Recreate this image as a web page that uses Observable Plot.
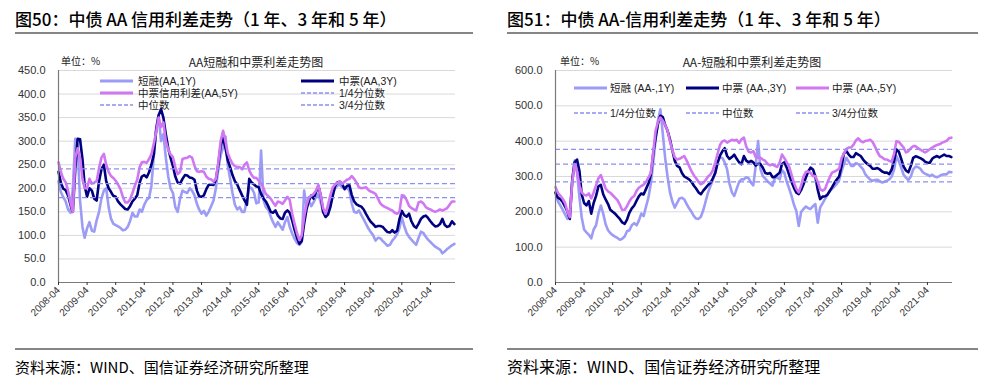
<!DOCTYPE html>
<html><head><meta charset="utf-8">
<script src="https://cdn.jsdelivr.net/npm/d3@7"></script>
<script src="https://cdn.jsdelivr.net/npm/@observablehq/plot@0.6"></script>
<style>
body{margin:0;background:#fff;}
#root{position:relative;width:992px;height:385px;overflow:hidden;background:#fff;font-family:"Noto Sans CJK SC","Liberation Sans",sans-serif;}
.abs{position:absolute;white-space:nowrap;line-height:1;}
.title{font-size:17px;color:#000;font-weight:500;}
.rule{position:absolute;height:2px;background:#858585;}
.src{color:#000;}
.ctitle{font-size:12px;color:#222;}
.unit{font-size:10px;color:#222;}
.leg{font-family:"Liberation Sans","Noto Sans CJK SC",sans-serif;font-size:10.5px;color:#222;display:flex;align-items:center;height:10px;}
.leg span{line-height:10px;}
</style></head>
<body><div id="root"></div>
<script>
// ---------- data ----------
const START_MONTH = "2008-04";
const X_END = "2022-02-15";
const xTickLabels = ["2008-04","2009-04","2010-04","2011-04","2012-04","2013-04","2014-04","2015-04","2016-04","2017-04","2018-04","2019-04","2020-04","2021-04"];
const yTicksLeft = [0,50,100,150,200,250,300,350,400,450];
const yTicksRight = [0,100,200,300,400,500,600];

// Left panel: AA (monthly, from 2008-04)
const aa1Y = [
215,192,181,172,155,148,200,305,290,174,118,95,
115,128,110,108,132,150,178,195,200,160,135,125,
122,119,116,111,112,118,130,148,140,140,155,150,
165,175,180,205,270,330,355,300,315,265,225,200,
190,160,150,178,195,192,190,200,195,185,167,155,
146,152,142,150,162,174,200,240,270,287,310,250,
220,190,165,155,160,150,150,175,202,200,190,168,
170,280,175,160,155,140,128,118,128,120,112,128,
139,118,104,93,84,80,86,195,162,174,162,170,
182,188,170,150,146,160,175,190,200,206,207,202,
202,201,195,168,150,148,153,143,134,124,114,107,
100,89,95,94,88,83,78,80,89,95,103,115,
138,120,105,97,91,85,80,95,108,105,97,91,
86,81,76,73,70,62,66,71,75,79,82];
const aa3Y = [
235,212,199,196,185,165,150,240,305,304,262,205,
182,200,195,178,174,215,240,250,215,200,192,184,
182,172,166,161,156,155,162,172,178,185,212,225,
228,223,234,250,272,325,355,368,350,315,285,265,
247,225,212,210,220,228,227,223,222,218,195,183,
182,185,198,207,208,207,218,250,290,308,285,260,
245,228,215,208,196,185,175,165,220,212,208,204,
202,188,178,172,162,150,148,153,142,136,135,148,
153,148,132,112,95,82,88,125,155,174,185,178,
192,205,185,150,139,144,160,184,205,213,214,209,
198,205,207,186,172,166,163,161,155,145,136,129,
124,118,120,120,118,112,107,106,111,106,110,134,
152,143,140,146,130,120,116,125,135,140,142,137,
130,124,119,120,124,135,122,118,120,130,124];
const aa5Y = [
255,235,220,213,195,170,150,265,285,265,220,200,
200,220,210,212,215,243,265,273,250,235,226,222,
216,208,198,182,170,170,176,190,205,218,245,255,
256,254,262,272,295,320,350,330,340,300,282,272,
266,245,230,235,262,264,265,268,265,248,236,235,
236,235,225,220,219,214,220,255,300,322,300,275,
262,252,247,245,245,240,250,255,238,228,222,222,
216,211,200,188,183,178,170,163,172,170,167,174,
182,175,146,125,105,90,100,140,165,181,184,188,
195,207,185,158,146,165,185,202,208,212,214,209,
214,218,220,226,220,212,202,200,201,202,196,193,
191,188,178,168,163,160,158,155,153,148,146,150,
185,184,175,163,158,155,153,170,172,168,160,157,
155,152,150,152,155,153,155,158,165,172,172];
const aaQuartiles = [180, 210, 241];

// Right panel: AA- (monthly, from 2008-04)
const aam1Y = [
252,230,218,206,193,180,200,290,345,311,240,185,
150,142,135,125,150,162,195,218,195,165,148,140,
134,130,126,121,124,130,145,148,162,168,162,175,
195,188,215,240,280,340,405,460,490,420,350,300,
255,230,212,225,238,240,235,222,210,200,188,181,
180,186,205,230,255,273,290,315,340,355,352,340,
320,280,255,245,265,285,292,292,298,295,282,275,
330,400,320,301,294,286,280,274,295,298,292,318,
310,285,266,245,220,202,160,200,208,215,210,208,
216,222,169,212,224,236,248,259,265,272,280,290,
315,335,353,342,330,330,338,335,328,320,305,298,
291,288,290,291,287,283,285,288,292,300,320,358,
343,325,305,297,290,300,320,328,327,322,312,308,
305,301,305,300,298,301,305,306,306,313,312];
const aam3Y = [
255,240,236,228,215,200,180,290,340,348,315,250,
225,218,230,195,225,245,272,276,250,235,222,206,
200,195,187,180,170,166,178,198,210,218,232,244,
252,249,265,280,305,365,410,450,472,468,445,430,
405,375,345,330,326,310,300,296,292,285,274,266,
255,250,260,268,276,282,295,310,340,360,372,380,
358,350,355,362,350,340,335,358,345,340,344,340,
331,336,335,325,310,308,310,298,299,305,311,335,
340,325,305,285,268,254,250,262,278,298,315,325,
320,300,262,236,243,244,248,259,270,282,292,300,
330,365,372,362,355,355,366,362,358,348,340,335,
330,322,322,324,320,314,311,311,307,320,345,377,
370,350,328,317,312,330,353,357,355,352,348,342,
339,339,350,355,358,354,358,362,358,358,355];
const aam5Y = [
270,254,246,237,225,200,185,285,335,315,275,255,
248,246,252,238,255,275,295,304,285,266,258,254,
247,240,233,220,205,206,216,230,240,245,260,268,
273,277,285,297,310,370,430,455,467,458,445,430,
400,375,355,348,350,354,358,345,330,315,303,295,
285,278,282,290,300,306,318,340,365,390,400,402,
396,400,404,402,404,395,405,410,385,370,368,372,
355,353,353,348,344,335,332,334,330,327,340,362,
352,340,328,305,282,265,255,275,300,313,314,310,
301,301,285,264,260,264,282,298,311,314,318,322,
352,365,378,382,382,390,402,408,400,397,401,402,
404,398,385,370,358,354,349,348,344,342,365,400,
398,390,382,368,372,380,386,386,380,376,372,368,
372,377,382,386,389,391,395,398,401,408,410];
const aamQuartiles = [285, 335, 377];

// ---------- styling ----------
const C_LIGHT = "#9c9cf7", C_NAVY = "#000080", C_PINK = "#d277f2", C_DASH = "#8f8ff0";
const parseM = d3.utcParse("%Y-%m");
const parseD = d3.utcParse("%Y-%m-%d");
const start = parseM(START_MONTH);
const xDomain = [start, parseD(X_END)];
const xTicks = xTickLabels.map(parseM);

const root = document.getElementById("root");
function addDiv(cls, x, y, html, extra) {
  const d = document.createElement("div");
  d.className = "abs " + cls;
  d.style.left = x + "px"; d.style.top = y + "px";
  d.innerHTML = html;
  if (extra) Object.assign(d.style, extra);
  root.appendChild(d);
  return d;
}
function addRule(x1, x2, y) {
  const d = document.createElement("div");
  d.className = "rule";
  d.style.left = x1 + "px"; d.style.width = (x2 - x1) + "px"; d.style.top = y + "px";
  root.appendChild(d);
}

function panel(left, series, quart, yTicks, yMax, mL, mR) {
  const marks = [Plot.gridY(yTicks.filter(t => t > 0), {stroke: "#d9d9d9", strokeOpacity: 1})];
  for (const s of series) {
    const rows = s.values.map((v, i) => ({date: d3.utcMonth.offset(start, i), v}));
    marks.push(Plot.lineY(rows, {x: "date", y: "v", stroke: s.color, strokeWidth: 2.6, strokeLinejoin: "round"}));
  }
  marks.push(Plot.ruleY(quart, {stroke: C_DASH, strokeWidth: 1.3, strokeDasharray: "5,3"}));
  marks.push(Plot.ruleY([0], {stroke: "#7a7a7a", strokeWidth: 1.2}));
  marks.push(Plot.ruleX([xDomain[0]], {stroke: "#7a7a7a", strokeWidth: 1.2}));
  marks.push(Plot.axisY(yTicks, {tickSize: 0, tickPadding: 13, tickFormat: d3.format(".1f"), fontSize: 11, label: null}));
  marks.push(Plot.axisX(xTicks, {tickSize: 3, tickPadding: 3, tickRotate: -45, tickFormat: d3.utcFormat("%Y-%m"), fontSize: 10, label: null}));
  const chart = Plot.plot({
    width: 480, height: 300,
    marginLeft: mL, marginRight: mR, marginTop: 30, marginBottom: 58,
    x: {type: "utc", domain: xDomain},
    y: {domain: [0, yMax]},
    style: {background: "transparent", color: "#333", fontFamily: "'Liberation Sans', Arial, sans-serif", overflow: "visible"},
    marks
  });
  chart.style.position = "absolute";
  chart.style.left = left + "px";
  chart.style.top = "40px";
  root.appendChild(chart);
}

panel(0, [
  {values: aa1Y, color: C_LIGHT},
  {values: aa3Y, color: C_NAVY},
  {values: aa5Y, color: C_PINK}
], aaQuartiles, yTicksLeft, 450, 58, 25);

panel(496, [
  {values: aam1Y, color: C_LIGHT},
  {values: aam3Y, color: C_NAVY},
  {values: aam5Y, color: C_PINK}
], aamQuartiles, yTicksRight, 600, 59, 24);

// ---------- text ----------
addDiv("title", 15, 10, "图50：中债 AA 信用利差走势（1 年、3 年和 5 年）");
addDiv("title", 507, 10, "图51：中债 AA-信用利差走势（1 年、3 年和 5 年）");
addRule(15, 473, 32);
addRule(507, 978, 32);
addRule(15, 473, 348);
addRule(507, 978, 348);
addDiv("src", 15, 359, "资料来源：WIND、国信证券经济研究所整理", {fontSize: "15px"});
addDiv("src", 507, 358, "资料来源：WIND、国信证券经济研究所整理", {fontSize: "16px"});

addDiv("ctitle", 256, 56, "AA短融和中票利差走势图", {transform: "translateX(-50%)"});
addDiv("unit", 61, 56, "单位：%");
addDiv("ctitle", 752, 56, "AA-短融和中票利差走势图", {transform: "translateX(-50%)"});
addDiv("unit", 560, 56, "单位：%");

function legendItem(x, y, color, dashed, text, gap) {
  const sw = 33;
  const line = dashed
    ? `<line x1="0" x2="${sw}" y1="5" y2="5" stroke="${C_DASH}" stroke-width="1.3" stroke-dasharray="4,2"/>`
    : `<line x1="0" x2="${sw}" y1="5" y2="5" stroke="${color}" stroke-width="3"/>`;
  addDiv("leg", x, y - 5, `<svg width="${sw}" height="10" style="display:block">${line}</svg><span style="margin-left:${gap}px">${text}</span>`);
}
legendItem(100, 81, C_LIGHT, false, "短融(AA,1Y)", 5);
legendItem(301, 81, C_NAVY, false, "中票(AA,3Y)", 5);
legendItem(100, 93, C_PINK, false, "中票信用利差(AA,5Y)", 5);
legendItem(301, 93, null, true, "1/4分位数", 5);
legendItem(100, 105, null, true, "中位数", 5);
legendItem(301, 105, null, true, "3/4分位数", 5);

legendItem(574, 88, C_LIGHT, false, "短融 (AA-,1Y)", 3);
legendItem(686, 88, C_NAVY, false, "中票 (AA-,3Y)", 3);
legendItem(796, 88, C_PINK, false, "中票 (AA-,5Y)", 3);
legendItem(574, 113, null, true, "1/4分位数", 3);
legendItem(686, 113, null, true, "中位数", 3);
legendItem(796, 113, null, true, "3/4分位数", 3);
</script>
</body></html>
